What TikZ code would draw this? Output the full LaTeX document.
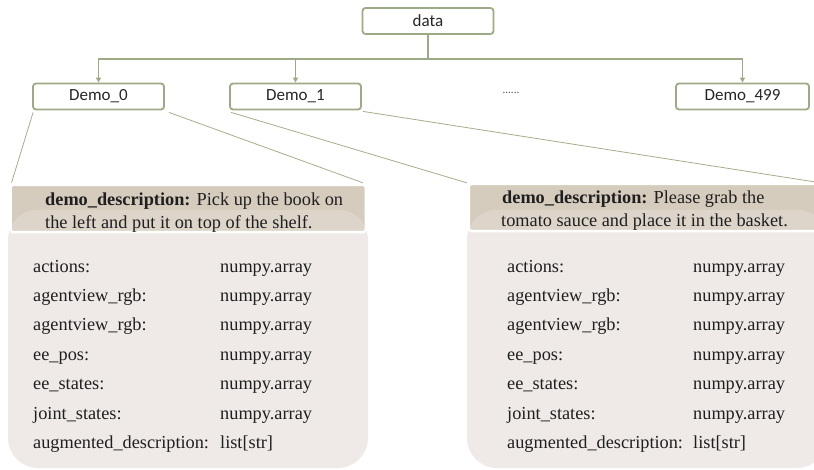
\documentclass[tikz,border=0pt]{standalone}
\usepackage{fontspec}
\setmainfont{Liberation Serif}
\newfontfamily\demofont{Carlito}
\usetikzlibrary{arrows.meta}
\definecolor{boxgreen}{HTML}{9DAA86}
\definecolor{linegreen}{HTML}{A3AE8C}
\definecolor{hdrfill}{HTML}{D6CCBE}
\definecolor{hdrlight}{HTML}{DDD5C9}
\definecolor{bodyfill}{HTML}{EFEAE7}
\begin{document}
\begin{tikzpicture}[x=1pt,y=-1pt,
  treebox/.style={draw=boxgreen, line width=1.8pt, rounded corners=3pt, fill=white,
    minimum width=131pt, minimum height=26pt, inner sep=0pt,
    font=\demofont\fontsize{17}{20}\selectfont, text=black!85},
  treeline/.style={draw=boxgreen, line width=1.8pt},
  treearrow/.style={treeline, -{Triangle[width=5pt,length=5pt]}},
  thinline/.style={draw=linegreen, line width=0.8pt},
  bodybox/.style={fill=bodyfill, rounded corners=30pt, minimum width=360pt, minimum height=258pt, inner sep=0pt},
  hdrbox/.style={fill=hdrfill, rounded corners=3pt, minimum width=355pt, minimum height=47pt, inner sep=0pt},
  txt/.style={anchor=base west, inner sep=0pt, font=\fontsize{18.3}{22}\selectfont, text=black!88},
]
\useasboundingbox (0,0) rectangle (814,469);
\clip (0,0) rectangle (814,469);

% tree
\node[treebox] (data) at (428,21) {data};
\node[treebox] (d0) at (98.5,96.5) {Demo\_0};
\node[treebox] (d1) at (295.5,96.5) {Demo\_1};
\node[treebox, minimum width=133pt] (d499) at (742.5,96.5) {Demo\_499};
\node[inner sep=0pt, font=\demofont\fontsize{11}{12}\selectfont, text=black!70] (dots) at (511,93) {......};

\draw[treeline] (data.south) -- ++(0,24) coordinate (bus);
\draw[treeline] ([xshift=-0.9pt]d0.north |- bus) -- ([xshift=0.9pt]d499.north |- bus);
\draw[treearrow] (d0.north |- bus) -- (d0.north);
\draw[treearrow] (d1.north |- bus) -- (d1.north);
\draw[treearrow] (d499.north |- bus) -- (d499.north);

% left panel
\node[bodybox] (b0) at (188,339) {};
\node[hdrbox] (h0) at (188.2,208.5) {};
\begin{scope}
  \clip[rounded corners=3pt] (h0.north west) rectangle (h0.south east);
  \fill[hdrlight, rounded corners=30pt] (b0.north west) rectangle (b0.south east);
\end{scope}
\draw[white, line width=2.5pt, rounded corners=3pt] (h0.north west) rectangle (h0.south east);

% right panel
\node[bodybox] (b1) at (647,339) {};
\node[hdrbox] (h1) at (646.5,207.5) {};
\begin{scope}
  \clip[rounded corners=3pt] (h1.north west) rectangle (h1.south east);
  \fill[hdrlight, rounded corners=30pt] (b1.north west) rectangle (b1.south east);
\end{scope}
\draw[white, line width=2.5pt, rounded corners=3pt] (h1.north west) rectangle (h1.south east);

% connectors
\draw[thinline] ([shift={(1pt,-2pt)}]d0.south west) -- ([shift={(1pt,2pt)}]h0.north west);
\draw[thinline] ([shift={(4pt,-2pt)}]d0.south east) -- ([shift={(-3pt,2pt)}]h0.north east);
\draw[thinline] ([shift={(2pt,-2pt)}]d1.south west) -- ([shift={(-2pt,1pt)}]h1.north west);
\draw[thinline] ([shift={(1pt,-1pt)}]d1.south east) -- ([shift={(-10pt,2pt)}]h1.north east);

% header texts
\node[txt] (t0a) at (45,205) {\textbf{demo\_description:} Pick up the book on};
\node[txt] (t0b) at (45,228) {the left and put it on top of the shelf.};
\node[txt] (t1a) at (502,203.5) {\textbf{demo\_description:} Please grab the};
\node[txt] (t1b) at (501,226.5) {tomato sauce and place it in the basket.};

% rows
\foreach \lab [count=\i from 0] in {actions:, agentview\_rgb:, agentview\_rgb:, ee\_pos:, ee\_states:, joint\_states:, augmented\_description:}{
  \node[txt] (l0\i) at (33,272+29.4*\i) {\lab};
  \node[txt] (l1\i) at (507,272+29.4*\i) {\lab};
}
\foreach \val [count=\i from 0] in {numpy.array, numpy.array, numpy.array, numpy.array, numpy.array, numpy.array, list[str]}{
  \node[txt] (v0\i) at (220,272+29.4*\i) {\val};
  \node[txt] (v1\i) at (693,272+29.4*\i) {\val};
}
\end{tikzpicture}
\end{document}
